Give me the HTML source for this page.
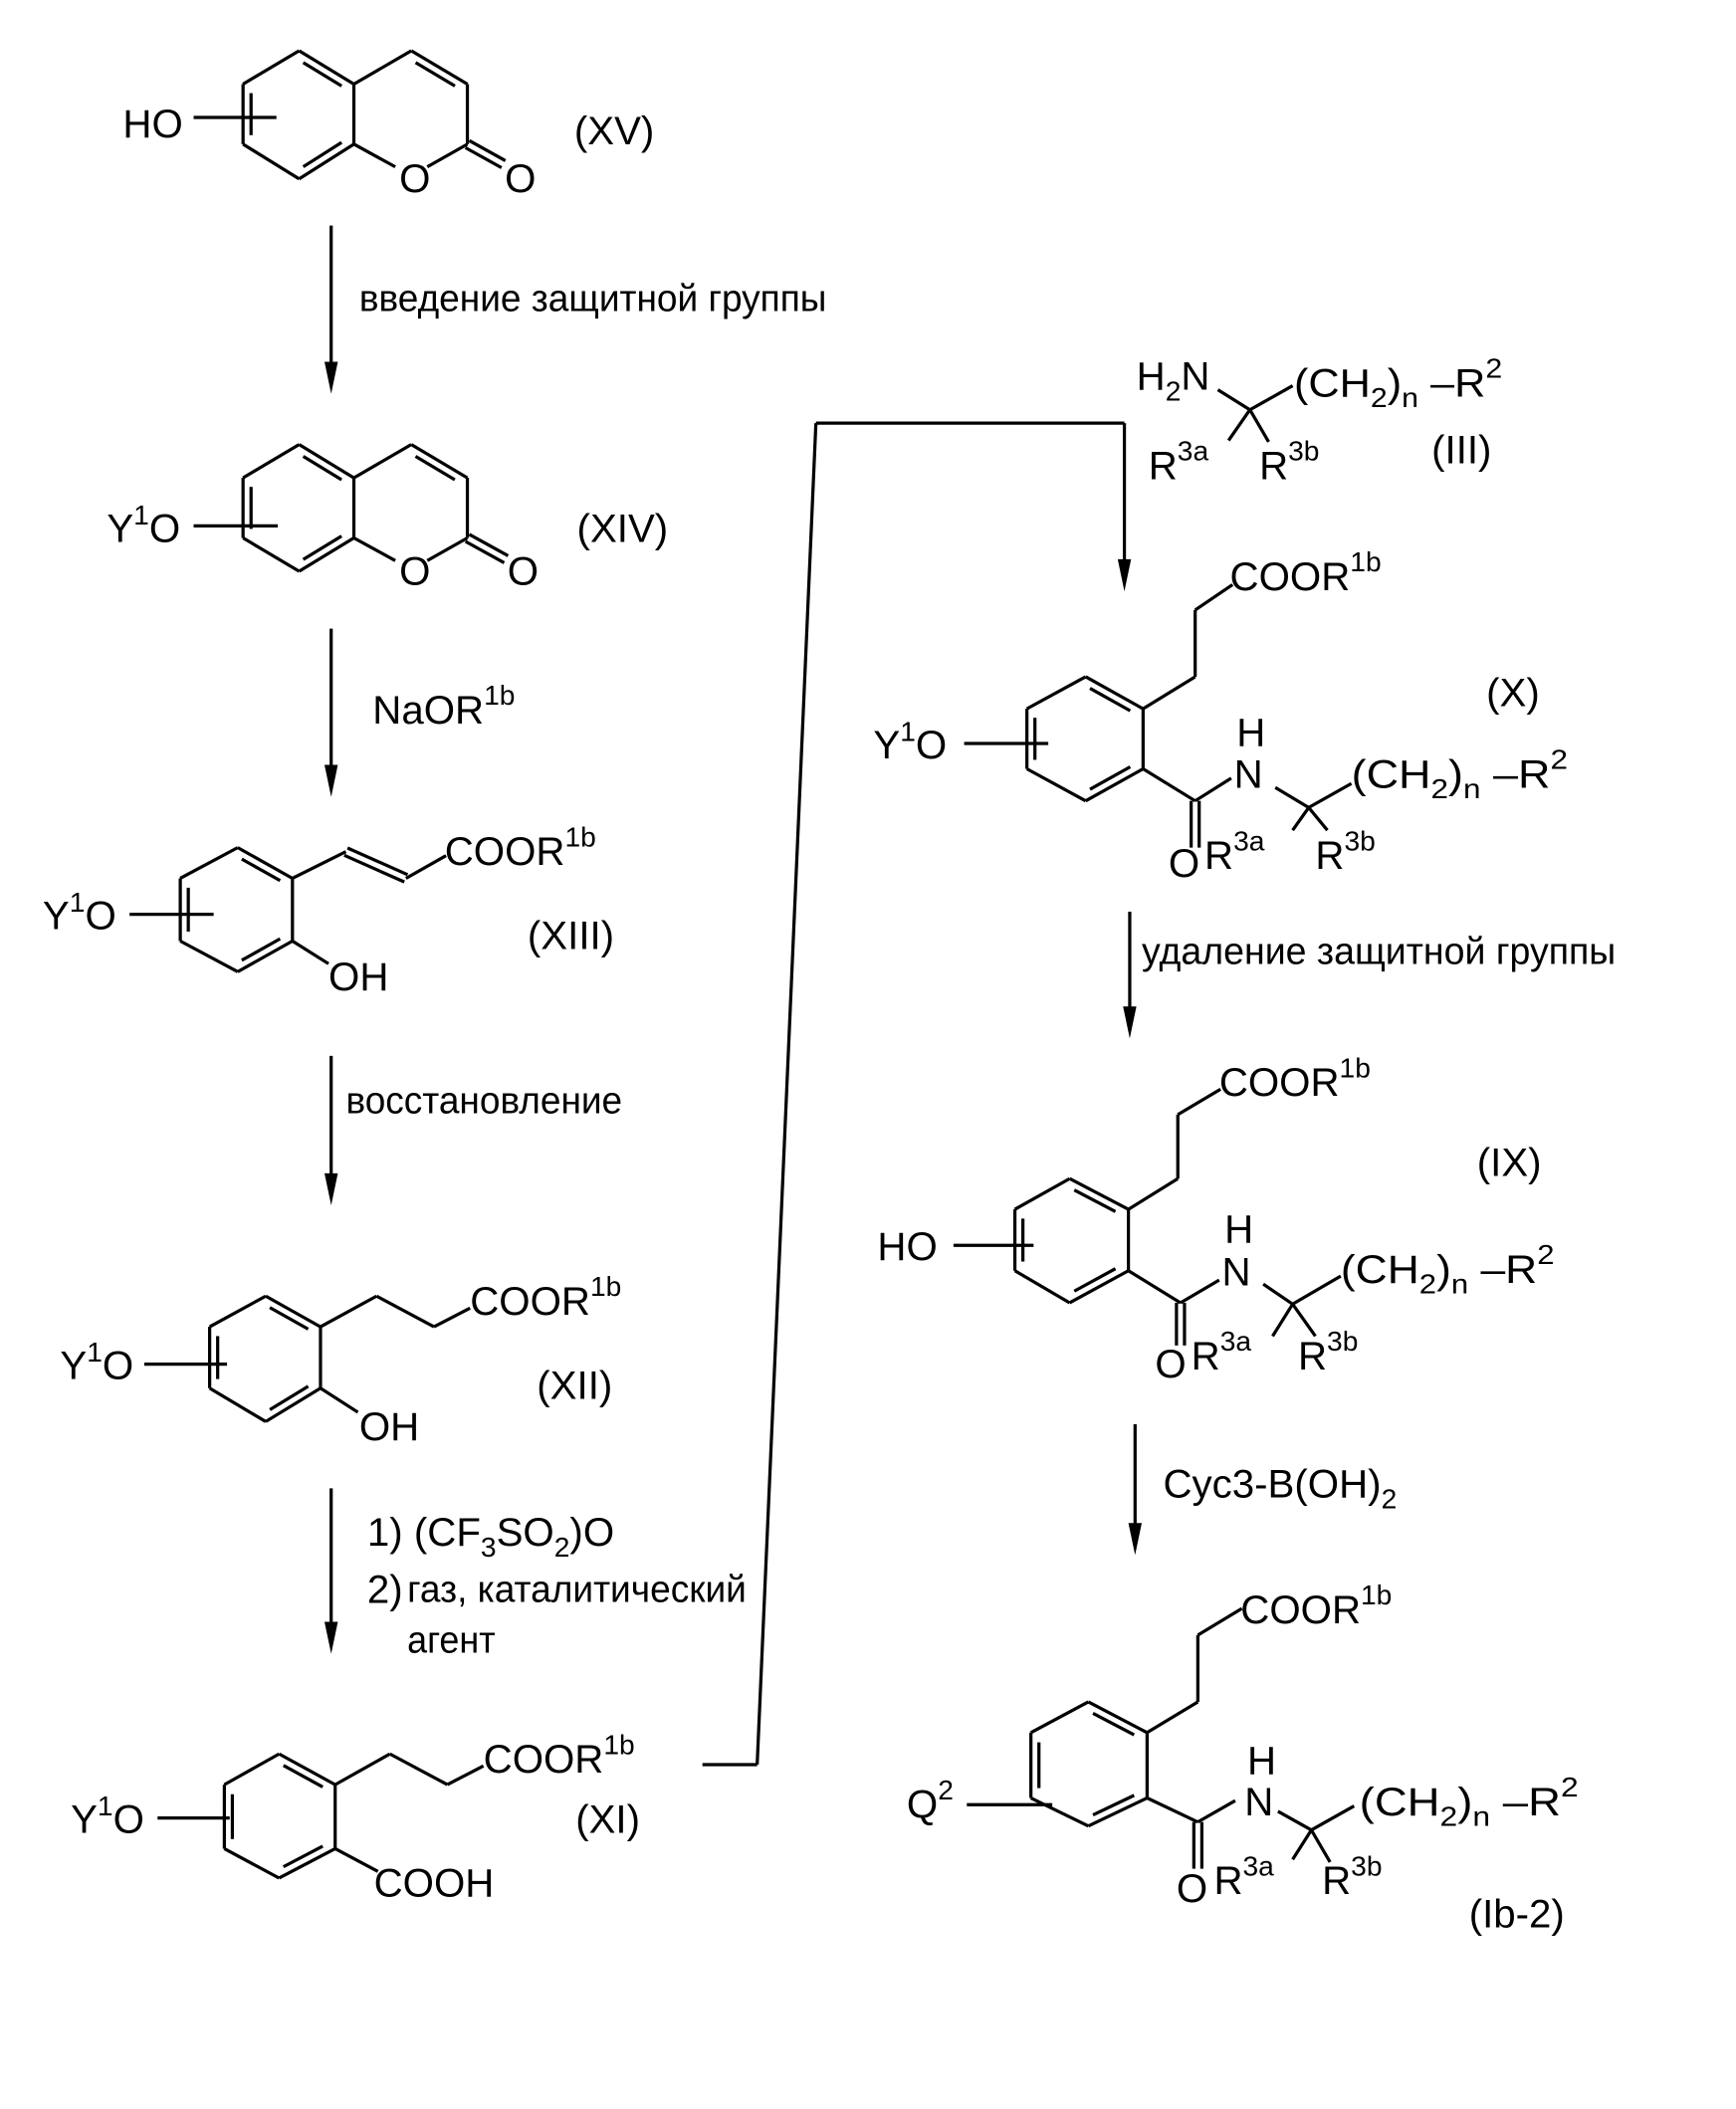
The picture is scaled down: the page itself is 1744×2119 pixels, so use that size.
<!DOCTYPE html>
<html><head><meta charset="utf-8">
<style>
html,body{margin:0;padding:0;background:#fff;}
svg{display:block;}
text{font-family:"Liberation Sans",Arial,sans-serif;fill:#000;font-size:30px;}
.s{font-size:21px;}
.ru{font-size:28px;}
</style></head>
<body>
<svg id="sv" width="1744" height="2119" viewBox="0 0 1300 1580" preserveAspectRatio="none" xmlns="http://www.w3.org/2000/svg">
<g id="lines" stroke="#000" stroke-width="2.4" fill="none"></g>
<g id="heads" fill="#000"></g>

<!-- XV -->
<text x="92" y="103">HO</text>
<text x="299" y="144">O</text>
<text x="378" y="144">O</text>
<text x="430" y="108">(XV)</text>
<text class="ru" x="269" y="233" textLength="350" lengthAdjust="spacingAndGlyphs">введение защитной группы</text>

<!-- XIV -->
<text x="80" y="406">Y<tspan class="s" dy="-13">1</tspan><tspan dy="13">O</tspan></text>
<text x="299" y="438">O</text>
<text x="380" y="438">O</text>
<text x="432" y="406">(XIV)</text>
<text x="279" y="542">NaOR<tspan class="s" dy="-14">1b</tspan></text>

<!-- XIII -->
<text x="333" y="648">COOR<tspan class="s" dy="-14">1b</tspan></text>
<text x="246" y="742">OH</text>
<text x="32" y="696">Y<tspan class="s" dy="-13">1</tspan><tspan dy="13">O</tspan></text>
<text x="395" y="711">(XIII)</text>
<text class="ru" x="259" y="834" textLength="207" lengthAdjust="spacingAndGlyphs">восстановление</text>

<!-- XII -->
<text x="352" y="985">COOR<tspan class="s" dy="-14">1b</tspan></text>
<text x="269" y="1079">OH</text>
<text x="45" y="1033">Y<tspan class="s" dy="-13">1</tspan><tspan dy="13">O</tspan></text>
<text x="402" y="1048">(XII)</text>

<text x="275" y="1158">1)  (CF<tspan class="s" dy="8">3</tspan><tspan dy="-8">SO</tspan><tspan class="s" dy="8">2</tspan><tspan dy="-8">)O</tspan></text>
<text x="275" y="1201">2)</text>
<text class="ru" x="305" y="1200" textLength="254" lengthAdjust="spacingAndGlyphs">газ, каталитический</text>
<text class="ru" x="305" y="1238" textLength="66" lengthAdjust="spacingAndGlyphs">агент</text>

<!-- XI -->
<text x="362" y="1328">COOR<tspan class="s" dy="-14">1b</tspan></text>
<text x="280" y="1421">COOH</text>
<text x="53" y="1373">Y<tspan class="s" dy="-13">1</tspan><tspan dy="13">O</tspan></text>
<text x="431" y="1373">(XI)</text>

<!-- III -->
<text x="851" y="292">H<tspan class="s" dy="8">2</tspan><tspan dy="-8">N</tspan></text>
<text x="969" y="297" textLength="156" lengthAdjust="spacingAndGlyphs">(CH<tspan class="s" dy="8">2</tspan><tspan dy="-8">)</tspan><tspan class="s" dy="8">n</tspan><tspan dy="-8"> –R</tspan><tspan class="s" dy="-14">2</tspan></text>
<text x="860" y="359">R<tspan class="s" dy="-14">3a</tspan></text>
<text x="943" y="359">R<tspan class="s" dy="-14">3b</tspan></text>
<text x="1072" y="347">(III)</text>

<!-- X -->
<text x="921" y="442">COOR<tspan class="s" dy="-14">1b</tspan></text>
<text x="654" y="568">Y<tspan class="s" dy="-13">1</tspan><tspan dy="13">O</tspan></text>
<text x="926" y="559">H</text>
<text x="924" y="590">N</text>
<text x="1012" y="590" textLength="162" lengthAdjust="spacingAndGlyphs">(CH<tspan class="s" dy="8">2</tspan><tspan dy="-8">)</tspan><tspan class="s" dy="8">n</tspan><tspan dy="-8"> –R</tspan><tspan class="s" dy="-14">2</tspan></text>
<text x="875" y="657">O</text>
<text x="902" y="651">R<tspan class="s" dy="-14">3a</tspan></text>
<text x="985" y="651">R<tspan class="s" dy="-14">3b</tspan></text>
<text x="1113" y="529">(X)</text>
<text class="ru" x="855" y="722" textLength="355" lengthAdjust="spacingAndGlyphs">удаление защитной группы</text>

<!-- IX -->
<text x="913" y="821">COOR<tspan class="s" dy="-14">1b</tspan></text>
<text x="657" y="944">HO</text>
<text x="917" y="931">H</text>
<text x="915" y="963">N</text>
<text x="1004" y="961" textLength="160" lengthAdjust="spacingAndGlyphs">(CH<tspan class="s" dy="8">2</tspan><tspan dy="-8">)</tspan><tspan class="s" dy="8">n</tspan><tspan dy="-8"> –R</tspan><tspan class="s" dy="-14">2</tspan></text>
<text x="865" y="1032">O</text>
<text x="892" y="1026">R<tspan class="s" dy="-14">3a</tspan></text>
<text x="972" y="1026">R<tspan class="s" dy="-14">3b</tspan></text>
<text x="1106" y="881">(IX)</text>
<text x="871" y="1122">Cyc3-B(OH)<tspan class="s" dy="8">2</tspan></text>

<!-- Ib-2 -->
<text x="929" y="1216">COOR<tspan class="s" dy="-14">1b</tspan></text>
<text x="679" y="1362">Q<tspan class="s" dy="-14">2</tspan></text>
<text x="934" y="1329">H</text>
<text x="932" y="1360">N</text>
<text x="1018" y="1360" textLength="164" lengthAdjust="spacingAndGlyphs">(CH<tspan class="s" dy="8">2</tspan><tspan dy="-8">)</tspan><tspan class="s" dy="8">n</tspan><tspan dy="-8"> –R</tspan><tspan class="s" dy="-14">2</tspan></text>
<text x="881" y="1425">O</text>
<text x="909" y="1419">R<tspan class="s" dy="-14">3a</tspan></text>
<text x="990" y="1419">R<tspan class="s" dy="-14">3b</tspan></text>
<text x="1100" y="1444">(Ib-2)</text>
</svg>
<script>
(function(){
var NS="http://www.w3.org/2000/svg";
var L=document.getElementById("lines"),H=document.getElementById("heads");
function ln(a,b,c,d){var e=document.createElementNS(NS,"line");e.setAttribute("x1",a);e.setAttribute("y1",b);e.setAttribute("x2",c);e.setAttribute("y2",d);L.appendChild(e);}
function pl(p){for(var i=0;i<p.length-1;i++)ln(p[i][0],p[i][1],p[i+1][0],p[i+1][1]);}
function inner(A,B,C,off){var dx=B[0]-A[0],dy=B[1]-A[1];var a=[A[0]+dx*.15,A[1]+dy*.15],b=[A[0]+dx*.85,A[1]+dy*.85];
 var mx=(A[0]+B[0])/2,my=(A[1]+B[1])/2,vx=C[0]-mx,vy=C[1]-my,l=Math.hypot(vx,vy);ln(a[0]+vx/l*off,a[1]+vy/l*off,b[0]+vx/l*off,b[1]+vy/l*off);}
function ring(p,d){var c=[0,0];p.forEach(function(q){c[0]+=q[0]/6;c[1]+=q[1]/6;});
 for(var i=0;i<6;i++){var A=p[i],B=p[(i+1)%6];ln(A[0],A[1],B[0],B[1]);if(d.indexOf(i)>=0)inner(A,B,c,6);}}
function dbl(a,b,c,d,o){var dx=c-a,dy=d-b,l=Math.hypot(dx,dy),nx=-dy/l*o,ny=dx/l*o;ln(a+nx,b+ny,c+nx,d+ny);ln(a-nx,b-ny,c-nx,d-ny);}
function arrow(x,y1,y2){ln(x,y1,x,y2-20);var p=document.createElementNS(NS,"polygon");p.setAttribute("points",(x-5)+","+(y2-24)+" "+(x+5)+","+(y2-24)+" "+x+","+y2);H.appendChild(p);}
function hex(x0,x1,x2,y0,y1,y2,y3){return [[x0,y1],[x1,y0],[x2,y1],[x2,y2],[x1,y3],[x0,y2]];}
// XV
ring(hex(182,224,265,38,63,108,134),[1,3,5]);
pl([[265,63],[308,38]]);inner([308,38],[350,63],[308,86],6);ln(308,38,350,63);ln(350,63,350,108);
ln(350,108,320,125);ln(265,108,296,125);dbl(350,108,377,123,3);ln(145,88,207,88);
// XIV
ring(hex(182,224,265,333,358,403,428),[1,3,5]);
ln(265,358,308,333);ln(308,333,350,358);inner([308,333],[350,358],[308,380],6);ln(350,358,350,403);
ln(350,403,320,420);ln(265,403,296,420);dbl(350,403,379,419,3);ln(145,394,208,394);
// XIII
ring(hex(135,178,219,635,658,705,728),[1,3,5]);
ln(219,658,259,638);dbl(259,638,304,658,3);ln(304,658,334,641);ln(219,705,246,722);ln(97,685,160,685);
// XII
ring(hex(157,199,240,971,994,1040,1065),[1,3,5]);
pl([[240,994],[282,971],[325,994],[352,980]]);ln(240,1040,268,1058);ln(108,1022,170,1022);
// XI
ring(hex(168,209,251,1314,1337,1385,1407),[1,3,5]);
pl([[251,1337],[292,1314],[335,1337],[362,1323]]);ln(251,1385,283,1402);ln(118,1362,172,1362);
// arrows left
arrow(248,169,295);arrow(248,471,597);arrow(248,791,903);arrow(248,1115,1239);
// connector
ln(526,1322,567,1322);ln(567,1322,611,317);ln(611,317,842,317);arrow(842,317,443);
// III
ln(912,292,936,307);ln(936,307,968,289);ln(936,307,920,330);ln(936,307,950,331);
// X
ring(hex(769,813,856,507,531,576,600),[1,3,5]);
pl([[856,531],[895,507],[895,457],[923,438]]);ln(722,557,785,557);
ln(856,576,895,600);ln(895,600,922,583);dbl(895,600,895,635,3);
ln(955,590,980,605);ln(980,605,1012,587);ln(980,605,968,622);ln(980,605,994,622);
arrow(846,683,778);
// IX
ring(hex(760,801,845,883,906,952,976),[1,3,5]);
pl([[845,906],[882,883],[882,835],[914,816]]);ln(714,933,774,933);
ln(845,952,884,976);ln(884,976,913,959);dbl(884,976,884,1008,3);
ln(946,962,968,977);ln(968,977,1004,956);ln(968,977,953,1001);ln(968,977,985,1001);
arrow(850,1067,1165);
// Ib-2
ring(hex(772,815,859,1275,1298,1347,1368),[1,3,5]);
pl([[859,1298],[897,1275],[897,1225],[930,1205]]);ln(724,1352,788,1352);
ln(859,1347,897,1365);ln(897,1365,925,1349);dbl(897,1365,897,1400,3);
ln(957,1357,982,1371);ln(982,1371,1014,1353);ln(982,1371,968,1393);ln(982,1371,996,1395);
})();
</script>
</body></html>
